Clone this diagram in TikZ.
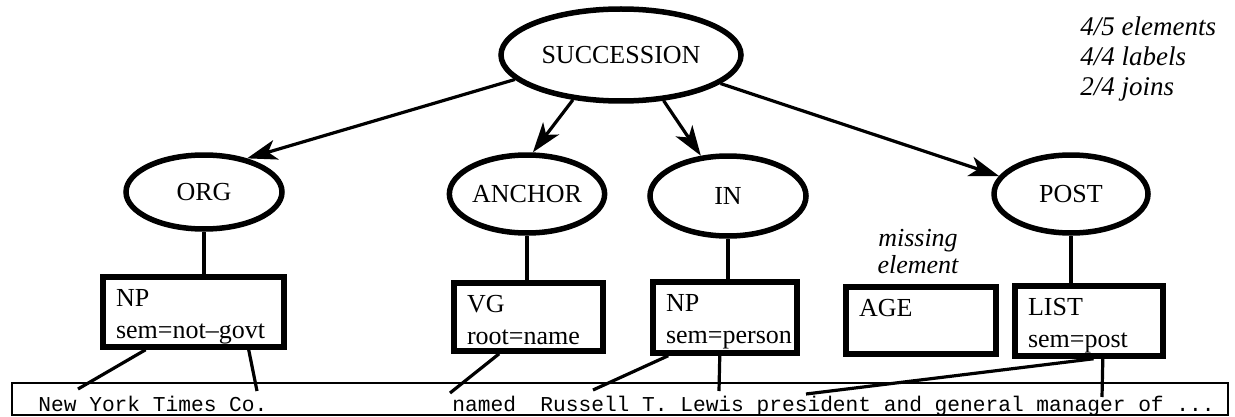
\documentclass[tikz,border=0pt]{standalone}
\usepackage{fontspec}
\setmainfont{Liberation Serif}
\setmonofont{Liberation Mono}
\usetikzlibrary{shapes.geometric,arrows.meta,calc}
\newcommand\boxtext[3]{\parbox[c][\dimexpr #2pt/2-4pt\relax][t]{\dimexpr #1pt/2-13pt\relax}{\rule{0pt}{12.5pt}#3}}
\tikzset{
  ell/.style={ellipse, draw, line width=2.75pt, inner sep=0pt, font=\fontsize{13}{16}\selectfont},
  fbox/.style={rectangle, draw, line width=2.75pt, inner xsep=6.5pt, inner ysep=2pt, font=\fontsize{13}{16}\selectfont},
  arr/.style={line width=1.6pt, -{Stealth[length=15pt,width=10pt,inset=4pt]}},
  link/.style={line width=1.6pt},
  tbox/.style={rectangle, draw, line width=1pt, inner sep=0pt},
  word/.style={anchor=base west, inner sep=0pt, font=\fontsize{10.6}{12}\selectfont\ttfamily},
  note/.style={inner sep=0pt, font=\fontsize{13.5}{15}\selectfont\itshape},
}
\begin{document}
\begin{tikzpicture}[x=0.5pt,y=-0.5pt]
\useasboundingbox (0,0) rectangle (1235,417);
% ellipses
\node[ell, minimum width=120pt, minimum height=46pt] (succ) at (621,55) {SUCCESSION};
\node[ell, minimum width=78pt, minimum height=37pt] (org) at (204,192) {ORG};
\node[ell, minimum width=77pt, minimum height=39pt] (anchor) at (527,194) {ANCHOR};
\node[ell, minimum width=78pt, minimum height=40pt] (in) at (728,196) {IN};
\node[ell, minimum width=77pt, minimum height=39pt] (post) at (1071,194) {POST};
% notes
\node[note, anchor=north west, align=left] (score) at (1080,16) {4/5 elements\\4/4 labels\\2/4 joins};
\node[note, anchor=north, align=center, font=\fontsize{13}{13.3}\selectfont\itshape] (miss) at (918,229) {missing\\element};
% boxes
\node[fbox] (npa) at (193.5,312) {\boxtext{181}{70}{NP\\\mbox{sem=not–govt}}};
\node[fbox] (vg) at (528.5,317) {\boxtext{149}{68}{VG\\\mbox{root=name}}};
\node[fbox] (npb) at (725,317.5) {\boxtext{144}{71}{NP\\\mbox{sem=person}}};
\node[fbox] (age) at (921,320.5) {\boxtext{150}{67}{AGE}};
\node[fbox] (list) at (1089,321) {\boxtext{148}{70}{LIST\\\mbox{sem=post}}};
% text strip
\node[tbox, minimum width=608pt, minimum height=16pt] (tb) at (620,399) {};
\node[word] (w1) at (38,411) {New York Times Co.};
\node[word] (w2) at (452,411) {named};
\node[word] (w3) at (540,411) {Russell T. Lewis president and general manager of ...};
% arrows
\draw[arr] (succ.193) -- (org.38);
\draw[arr] (succ.223) -- (anchor.82);
\draw[arr] (succ.313) -- (in.124);
\draw[arr] (succ.344) -- (post.166);
% vertical links
\draw[link] (org.south) -- (org.south |- npa.north);
\draw[link] (anchor.south) -- (anchor.south |- vg.north);
\draw[link] (in.south) -- (in.south |- npb.north);
\draw[link] (post.south) -- (post.south |- list.north);
% links to text
\coordinate (e1) at (78,389);
\coordinate (e2) at (257,391);
\coordinate (e3) at (450,393);
\coordinate (e4) at (593,390);
\coordinate (e5) at (719,391);
\coordinate (e6) at (806,394);
\coordinate (e7) at (1102,397);
\draw[link] ($(npa.south west)!0.243!(npa.south east)$) -- (e1);
\draw[link] ($(npa.south west)!0.796!(npa.south east)$) -- (e2);
\draw[link] ($(vg.south west)!0.31!(vg.south east)$) -- (e3);
\draw[link] ($(npb.south west)!0.12!(npb.south east)$) -- (e4);
\draw[link] ($(npb.south west)!0.465!(npb.south east)$) -- (e5);
\draw[link] ($(list.south west)!0.53!(list.south east)$) -- (e6);
\draw[link] ($(list.south west)!0.59!(list.south east)$) -- (e7);
\end{tikzpicture}
\end{document}
